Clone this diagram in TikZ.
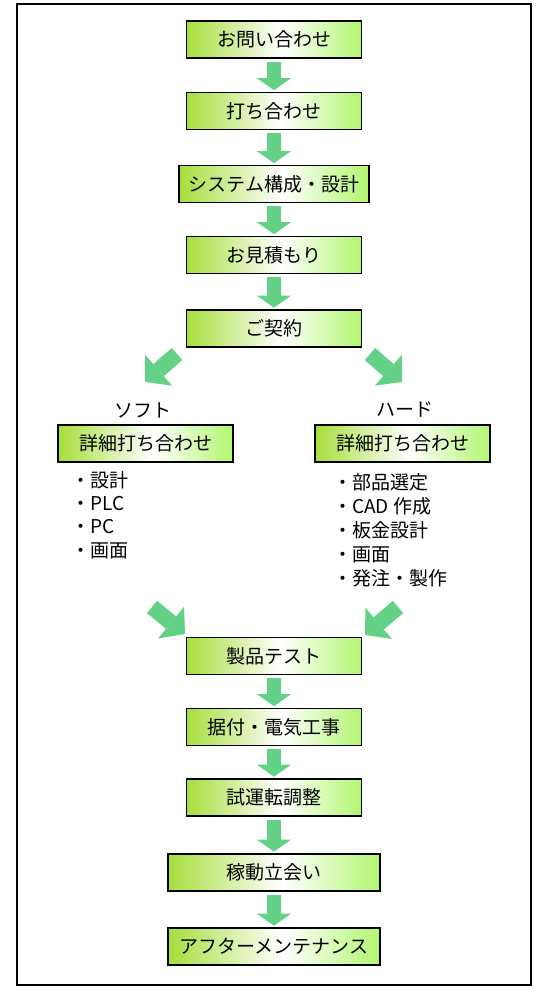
\documentclass[tikz,border=0pt]{standalone}
\usepackage{fontspec}
\setmainfont{Noto Sans CJK JP}
\usetikzlibrary{arrows.meta}
\definecolor{boxleft}{RGB}{166,222,60}
\definecolor{boxright}{RGB}{178,246,112}
\definecolor{flowgreen}{RGB}{100,210,134}
\pgfdeclarehorizontalshading{boxfill}{100bp}{color(0bp)=(boxleft); color(25bp)=(boxleft); color(52bp)=(white); color(75bp)=(boxright); color(100bp)=(boxright)}
\tikzset{
  stepbox/.style={draw,line width=1.6pt,shade,shading=boxfill,minimum width=175pt,minimum height=37pt,inner sep=0pt,font=\fontsize{19}{22}\selectfont},
  flow/.style={draw=flowgreen,line width=14pt,-{Triangle[width=34pt,length=12pt,line width=0pt]},shorten <=3pt,shorten >=1.5pt},
  flowdiag/.style={draw=flowgreen,line width=16pt,-{Triangle[width=41pt,length=18pt,line width=0pt]}},
  item/.style={anchor=west,inner sep=0pt,text height=16pt,text depth=1.6pt,font=\fontsize{19}{22}\selectfont},
  lbl/.style={inner sep=0pt,font=\fontsize{19}{22}\selectfont}
}
\begin{document}
\begin{tikzpicture}[x=1pt,y=-1pt]
\useasboundingbox (0,0) rectangle (540,1000);
\draw[line width=2pt] (17,4) rectangle (531,985);
\foreach \nm/\yy/\bw/\lb in {inquiry/39.5/175pt/お問い合わせ,meeting/111/175pt/打ち合わせ,system/184/190pt/システム構成・設計,estimate/255/175pt/お見積もり,contract/328.5/175pt/ご契約,test/656/175pt/製品テスト,install/727/175pt/据付・電気工事,trial/797.5/175pt/試運転調整,witness/872.5/212pt/稼動立会い,after/946.5/212pt/アフターメンテナンス}{\node[stepbox,minimum width=\bw] (\nm) at (274,\yy) {\lb};}
\foreach \a/\b in {inquiry/meeting,meeting/system,system/estimate,estimate/contract,test/install,install/trial,trial/witness,witness/after}{\draw[flow] (\a) -- (\b);}
\node[stepbox] (softbox) at (145.5,443.5) {詳細打ち合わせ};
\node[stepbox] (hardbox) at (402.5,443.5) {詳細打ち合わせ};
\node[lbl] (softlbl) at (143,410) {ソフト};
\node[lbl] (hardlbl) at (405,410) {ハード};
\foreach \lb [count=\i] in {設計,PLC,PC,画面}{\node[item] (soft\i) at (71,{480+(\i-1)*23.3}) {・\lb};}
\foreach \lb [count=\i] in {部品選定,CAD 作成,板金設計,画面,発注・製作}{\node[item] (hard\i) at (333,{482+(\i-1)*24}) {・\lb};}
\coordinate (ul0) at (177,354);
\coordinate (ul1) at (145,382);
\coordinate (ur0) at (370,354);
\coordinate (ur1) at (402,382);
\coordinate (ll0) at (152,607);
\coordinate (ll1) at (185,634);
\coordinate (lr0) at (398,607);
\coordinate (lr1) at (365,635);
\draw[flowdiag] (ul0) -- (ul1);
\draw[flowdiag] (ur0) -- (ur1);
\draw[flowdiag] (ll0) -- (ll1);
\draw[flowdiag] (lr0) -- (lr1);
\end{tikzpicture}
\end{document}
